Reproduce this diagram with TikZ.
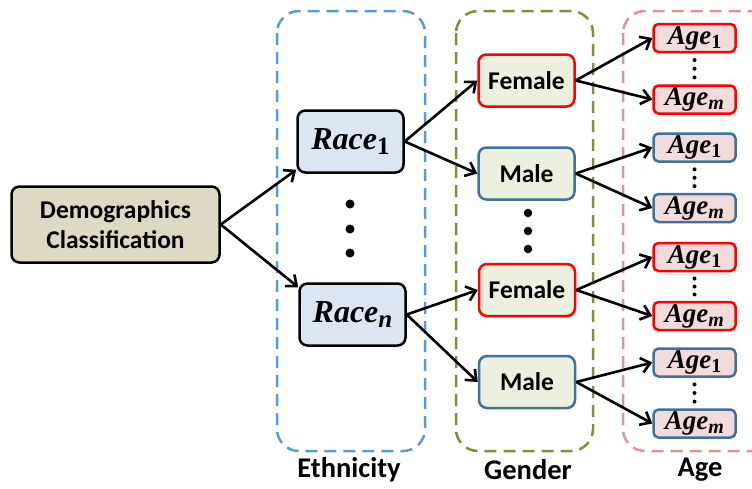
\documentclass[tikz,border=0pt]{standalone}
\usepackage{fontspec}
\setmainfont{Carlito}
\newfontfamily\mathf{Liberation Serif}
\usetikzlibrary{arrows.meta,calc}
\definecolor{demofill}{HTML}{DDD9C3}
\definecolor{racefill}{HTML}{DCE6F2}
\definecolor{genfill}{HTML}{EBF1DE}
\definecolor{agefill}{HTML}{F2DCDB}
\definecolor{maleline}{HTML}{41719C}
\definecolor{ethline}{HTML}{5B9BD5}
\definecolor{genline}{HTML}{77933C}
\definecolor{ageline}{HTML}{D99694}
\newcommand\mlab[5]{{\mathf\bfseries\itshape\fontsize{#1}{#1}\selectfont #3\raisebox{#5}{\fontsize{#2}{#2}\selectfont #4}}}
\begin{document}
\begin{tikzpicture}[x=1pt,y=-1pt,
  box/.style={draw, line width=2.5pt, rounded corners=8pt, inner sep=0pt, align=center},
  demo/.style={box, fill=demofill, minimum width=208pt, minimum height=76pt,
    font=\fontsize{25.5}{30}\selectfont\bfseries},
  race/.style={box, fill=racefill, minimum width=106pt, minimum height=62pt},
  fem/.style={box, draw=red, fill=genfill, minimum width=96pt, minimum height=52pt,
    font=\fontsize{25.5}{30}\selectfont\bfseries},
  mal/.style={fem, draw=maleline},
  agef/.style={box, draw=red, fill=agefill, rounded corners=5pt, minimum width=82pt, minimum height=28pt},
  agem/.style={agef, draw=maleline},
  group/.style={line width=2.5pt, dash pattern=on 12pt off 7pt, rounded corners=22pt},
  arr/.style={line width=2.6pt, -{Straight Barb[length=9pt,width=15pt,line width=2.6pt]}},
  lab/.style={font=\fontsize{28.5}{32}\selectfont\bfseries},
  bigdot/.style={circle, fill=black, inner sep=0pt, minimum size=9pt},
  meddot/.style={circle, fill=black, inner sep=0pt, minimum size=8.5pt},
  smalldot/.style={circle, fill=black, inner sep=0pt, minimum size=4pt}]
\useasboundingbox (0,0) rectangle (752,488);
\clip (0,0) rectangle (752,488);
% groups
\draw[group, draw=ethline] (277,11) rectangle (425,451);
\draw[group, draw=genline] (456,11) rectangle (593,451);
\draw[group, draw=ageline] (623,11) rectangle (780,451);
\node[lab] (lEth) at (349,470) {Ethnicity};
\node[lab] (lGen) at (528,470) {Gender};
\node[lab] (lAge) at (700,470) {Age};
% nodes
\node[demo] (d) at (115.5,224.5) {Demographics\\Classification};
\node[race] (r1) at (350.5,141.5) {\mlab{32}{25}{Race}{\upshape 1}{-5pt}};
\node[race] (rn) at (352.5,314.5) {\mlab{32}{25}{Race}{n}{-5pt}};
\node[bigdot] (rd1) at (350,204) {};
\node[bigdot] (rd2) at (350,229) {};
\node[bigdot] (rd3) at (350,253) {};
\node[fem] (f1) at (526.5,80.5) {Female};
\node[mal] (m1) at (526.5,173.5) {Male};
\node[fem] (f2) at (527,290) {Female};
\node[mal] (m2) at (527,382) {Male};
\node[meddot] (gd1) at (528,213) {};
\node[meddot] (gd2) at (528,231) {};
\node[meddot] (gd3) at (528,249) {};
\node[agef] (a11) at (694.5,38) {\mlab{27}{20}{Age}{\upshape 1}{-4pt}};
\node[agef] (a1m) at (694.5,99.5) {\mlab{27}{20}{Age}{m}{-4pt}};
\node[agem] (a21) at (694.5,147.5) {\mlab{27}{20}{Age}{\upshape 1}{-4pt}};
\node[agem] (a2m) at (694.5,208) {\mlab{27}{20}{Age}{m}{-4pt}};
\node[agef] (a31) at (694.5,257) {\mlab{27}{20}{Age}{\upshape 1}{-4pt}};
\node[agef] (a3m) at (694.5,316) {\mlab{27}{20}{Age}{m}{-4pt}};
\node[agem] (a41) at (694.5,362.5) {\mlab{27}{20}{Age}{\upshape 1}{-4pt}};
\node[agem] (a4m) at (694.5,423.5) {\mlab{27}{20}{Age}{m}{-4pt}};
\foreach \t/\b in {a11/a1m,a21/a2m,a31/a3m,a41/a4m}{
  \node[smalldot] at ($(\t.south)!0.22!(\b.north)$) {};
  \node[smalldot] at ($(\t.south)!0.5!(\b.north)$) {};
  \node[smalldot] at ($(\t.south)!0.78!(\b.north)$) {};
}
% arrows
\draw[arr] (d.east) -- ([yshift=4pt]r1.south west);
\draw[arr] (d.east) -- ([yshift=-5pt]rn.north west);
\draw[arr] (r1.east) -- (f1.west);
\draw[arr] (r1.east) -- (m1.west);
\draw[arr] (rn.east) -- (f2.west);
\draw[arr] (rn.east) -- (m2.west);
\draw[arr] (f1.east) -- (a11.west);
\draw[arr] (f1.east) -- (a1m.west);
\draw[arr] (m1.east) -- (a21.west);
\draw[arr] (m1.east) -- (a2m.west);
\draw[arr] (f2.east) -- (a31.west);
\draw[arr] (f2.east) -- (a3m.west);
\draw[arr] (m2.east) -- (a41.west);
\draw[arr] (m2.east) -- (a4m.west);
\end{tikzpicture}
\end{document}
